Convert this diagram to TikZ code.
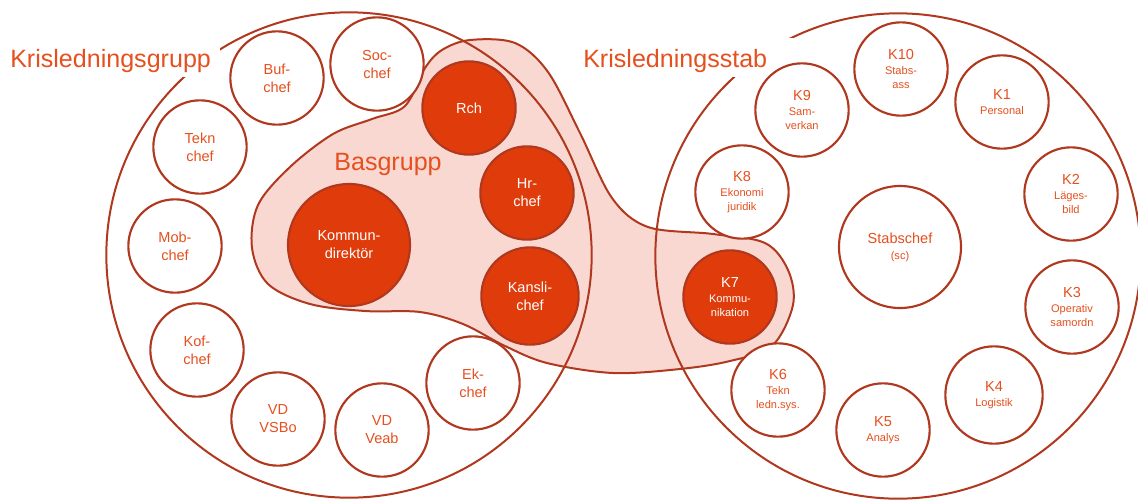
\documentclass[tikz,border=0pt]{standalone}
\usepackage{fontspec}
\setmainfont{Liberation Sans}
\definecolor{rim}{HTML}{B0381E}
\definecolor{kfill}{HTML}{E03C0B}
\definecolor{bpink}{HTML}{F9D8D1}
\definecolor{ktext}{HTML}{E5501E}
\newcommand{\ksub}{\fontsize{8.3}{9}\selectfont}
\begin{document}
\begin{tikzpicture}[x=0.75pt,y=-0.75pt,
  member/.style={circle,draw=rim,line width=1.6pt,fill=white,text=ktext,minimum size=70pt,inner sep=0pt,align=center,font=\fontsize{10.9}{13.5}\selectfont},
  kmember/.style={member,font=\fontsize{10.9}{11.25}\selectfont},
  core/.style={member,fill=kfill,text=white},
  kcore/.style={kmember,fill=kfill,text=white},
  ring/.style={circle,draw=rim,line width=1.5pt,minimum size=364pt,inner sep=0pt},
  title/.style={fill=white,text=ktext,font=\fontsize{18.8}{22}\selectfont,anchor=base west,inner xsep=0pt,inner ysep=3.5pt,text width=157pt,text height=18pt,align=left}]
\useasboundingbox (0,0) rectangle (1138,500);

% Basgrupp area
\fill[bpink] plot[smooth cycle,tension=0.55] coordinates {(470,40) (515,43) (548,72) (580,133) (612,198) (648,227) (713,234) (765,243) (788,270) (793,305) (772,346) (730,361) (680,369) (613,373) (547,363) (505,346) (463,324) (420,312) (365,311) (310,304) (268,284) (252,248) (258,205) (290,167) (333,134) (372,119) (405,106) (425,68) (442,50)};

\node[ring] (grupp) at (349,255) {};
\node[ring] (stab) at (898,256) {};

\draw[rim,line width=1.5pt] plot[smooth cycle,tension=0.55] coordinates {(470,40) (515,43) (548,72) (580,133) (612,198) (648,227) (713,234) (765,243) (788,270) (793,305) (772,346) (730,361) (680,369) (613,373) (547,363) (505,346) (463,324) (420,312) (365,311) (310,304) (268,284) (252,248) (258,205) (290,167) (333,134) (372,119) (405,106) (425,68) (442,50)};

\node[title] (tgrupp) at (10,67) {Krisledningsgrupp};
\node[title] (tstab) at (583,67) {Krisledningsstab};
\node[text=ktext,font=\fontsize{18.8}{22}\selectfont,anchor=base] (tbas) at (388,170) {Basgrupp};

% Krisledningsgrupp
\node[member] (buf) at (277,78) {Buf-\\chef};
\node[member] (soc) at (377,64) {Soc-\\chef};
\node[member] (tekn) at (200,147) {Tekn\\chef};
\node[member] (mob) at (175,246) {Mob-\\chef};
\node[member] (kof) at (197,350) {Kof-\\chef};
\node[member] (vsbo) at (278,419) {VD\\VSBo};
\node[member] (veab) at (382,430) {VD\\Veab};
\node[member] (ek) at (473,383) {Ek-\\chef};

% Basgrupp
\node[core] (rch) at (469,108) {Rch};
\node[core] (hr) at (527,193) {Hr-\\chef};
\node[core,minimum size=73pt] (kansli) at (530,296) {Kansli-\\chef};
\node[core,minimum size=91.5pt] (kd) at (349,245) {Kommun-\\direktör};
\node[kcore] (k7) at (730,297) {K7\\\ksub Kommu-\\[-1.25pt]\ksub nikation};

% Krisledningsstab
\node[kmember] (k10) at (901,69) {K10\\\ksub Stabs-\\[-1.25pt]\ksub ass};
\node[kmember] (k9) at (802,110) {K9\\\ksub Sam-\\[-1.25pt]\ksub verkan};
\node[kmember] (k1) at (1002,102) {K1\\\ksub Personal};
\node[kmember] (k8) at (742,192) {K8\\\ksub Ekonomi\\[-1.25pt]\ksub juridik};
\node[kmember] (k2) at (1071,194) {K2\\\ksub Läges-\\[-1.25pt]\ksub bild};
\node[kmember,minimum size=91.5pt] (sc) at (900,247) {Stabschef\\[0.75pt]\ksub (sc)};
\node[kmember] (k3) at (1072,307) {K3\\\ksub Operativ\\[-1.25pt]\ksub samordn};
\node[kmember,minimum size=73pt] (k4) at (994,395) {K4\\\ksub Logistik};
\node[kmember] (k5) at (883,430) {K5\\\ksub Analys};
\node[kmember] (k6) at (778,390) {K6\\\ksub Tekn\\[-1.25pt]\ksub ledn.sys.};
\end{tikzpicture}
\end{document}
